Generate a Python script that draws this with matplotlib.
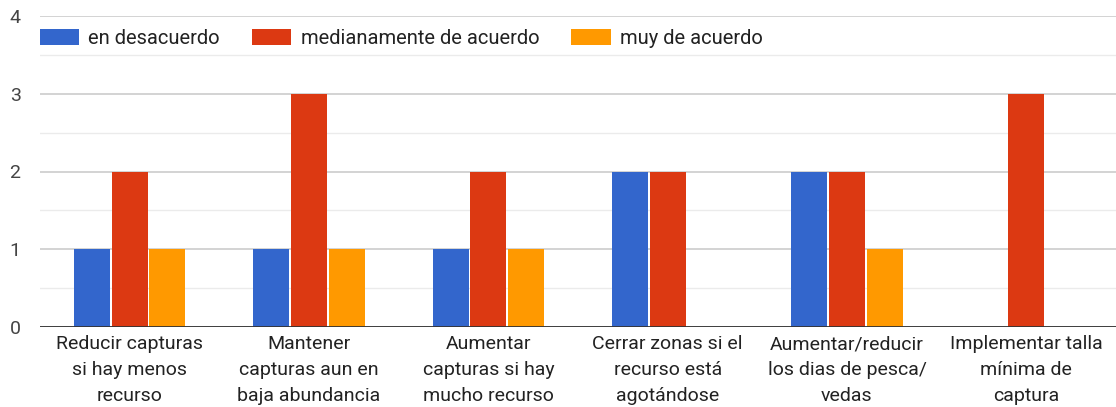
import matplotlib
matplotlib.use("Agg")
import matplotlib.pyplot as plt
import numpy as np
from matplotlib.patches import Patch

categories = [
    "Reducir capturas\nsi hay menos\nrecurso",
    "Mantener\ncapturas aun en\nbaja abundancia",
    "Aumentar\ncapturas si hay\nmucho recurso",
    "Cerrar zonas si el\nrecurso está\nagotándose",
    "Aumentar/reducir\nlos dias de pesca/\nvedas",
    "Implementar talla\nmínima de\ncaptura",
]
series_names = ["en desacuerdo", "medianamente de acuerdo", "muy de acuerdo"]
en_desacuerdo = [1, 1, 1, 2, 2, 0]
medianamente = [2, 3, 2, 2, 2, 3]
muy_de_acuerdo = [1, 1, 1, 0, 1, 0]
colors = ["#3366cc", "#dc3912", "#ff9900"]

plt.rcParams['font.family'] = ['Roboto', 'DejaVu Sans']

fig = plt.figure(figsize=(11.16, 4.07), dpi=100)
ax = fig.add_axes([40/1116, 80/407, 1076/1116, 311/407])

x = np.arange(len(categories))
w = 0.2
step = 0.21
for i, (vals, c) in enumerate(zip([en_desacuerdo, medianamente, muy_de_acuerdo], colors)):
    ax.bar(x + (i - 1) * step, vals, width=w, color=c, zorder=3, linewidth=0)

ax.set_xlim(-0.5, 5.5)
ax.set_ylim(0, 4)
ax.set_yticks([0, 1, 2, 3, 4])
ax.set_yticks([0.5, 1.5, 2.5, 3.5], minor=True)
ax.grid(axis='y', which='major', color='#cccccc', linewidth=1.2, zorder=0)
ax.grid(axis='y', which='minor', color='#ebebeb', linewidth=1.0, zorder=0)
ax.axhline(0, color='#333333', linewidth=1.3, zorder=4)
for s in ax.spines.values():
    s.set_visible(False)
ax.tick_params(axis='both', which='both', length=0)
ax.tick_params(axis='y', labelsize=14, labelcolor='#444444', pad=14)
ax.set_xticks(x)
ax.set_xticklabels(categories, fontsize=14, color='#222222', linespacing=1.55)
ax.tick_params(axis='x', pad=6)

handles = [Patch(facecolor=c, edgecolor='none', label=n) for c, n in zip(colors, series_names)]
leg = ax.legend(handles=handles, loc='upper left', bbox_to_anchor=(0.0, 0.958), ncol=3,
                frameon=False, fontsize=14.5, handlelength=1.95, handleheight=0.8,
                handletextpad=0.45, columnspacing=1.6, borderaxespad=0, borderpad=0)
for t in leg.get_texts():
    t.set_color('#222222')

fig.savefig("out.png", dpi=100, facecolor='white')
